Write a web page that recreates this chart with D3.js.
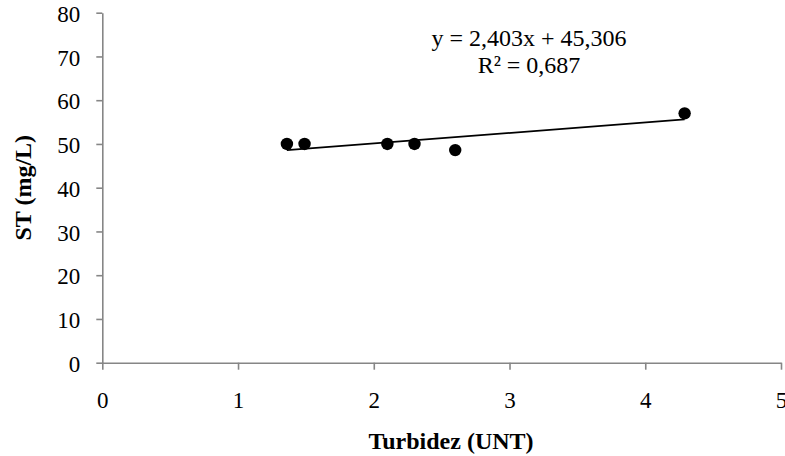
<!DOCTYPE html>
<html>
<head>
<meta charset="utf-8">
<script src="https://cdn.jsdelivr.net/npm/d3@7"></script>
<style>
  body { margin: 0; background: #fff; }
  svg text { font-family: "Liberation Serif", "Times New Roman", serif; fill: #000; }
</style>
</head>
<body>
<script>
// data
var turbidez = [1.36, 1.49, 2.1, 2.3, 2.6, 4.29];
var st = [50, 50, 50, 50, 48.6, 57];
var xTicks = [0, 1, 2, 3, 4, 5];
var yTicks = [0, 10, 20, 30, 40, 50, 60, 70, 80];
var trendCoef = [2.403, 45.306]; // slope, intercept
var trendLabels = ["y = 2,403x + 45,306", "R\u00b2 = 0,687"];

var width = 785,
    height = 456;

var svg = d3.select("body").append("svg")
    .attr("width", width)
    .attr("height", height);

var xScale = d3.scaleLinear().domain([0, 5]).range([102.3, 781]);
var yScale = d3.scaleLinear().domain([0, 80]).range([362.7, 12.7]);

// axes
var xAxis = d3.axisBottom(xScale).tickValues(xTicks).tickFormat(d3.format("d"))
    .tickSize(7).tickSizeOuter(0).tickPadding(22);
var yAxis = d3.axisLeft(yScale).tickValues(yTicks).tickFormat(d3.format("d"))
    .tickSize(6).tickSizeOuter(0).tickPadding(16);

var gx = svg.append("g")
    .attr("transform", "translate(0," + yScale(0) + ")")
    .call(xAxis);
var gy = svg.append("g")
    .attr("transform", "translate(" + xScale(0) + ",0)")
    .call(yAxis);

[gx, gy].forEach(function(g) {
  g.attr("font-family", null).attr("font-size", null);
  g.selectAll("path, line").attr("stroke", "#868686").attr("stroke-width", 1.6);
  g.selectAll("text").attr("fill", "#000")
      .style("font-family", "'Liberation Serif', 'Times New Roman', serif")
      .style("font-size", "23px");
});
gy.selectAll("text").attr("dy", "0.38em");

// trend line over the data range
var xMin = d3.min(turbidez), xMax = d3.max(turbidez);
svg.append("line")
    .attr("x1", xScale(xMin))
    .attr("y1", yScale(trendCoef[0] * xMin + trendCoef[1]))
    .attr("x2", xScale(xMax))
    .attr("y2", yScale(trendCoef[0] * xMax + trendCoef[1]))
    .attr("stroke", "#000")
    .attr("stroke-width", 1.8);

// points
svg.selectAll("circle").data(turbidez).enter().append("circle")
    .attr("cx", function(d) { return xScale(d); })
    .attr("cy", function(d, i) { return yScale(st[i]); })
    .attr("r", 6.2)
    .attr("fill", "#000");

// equation label
svg.selectAll("text.eq").data(trendLabels).enter().append("text")
    .attr("class", "eq")
    .attr("x", 529)
    .attr("y", function(d, i) { return 46 + i * 27; })
    .attr("text-anchor", "middle")
    .style("font-size", "24px")
    .text(function(d) { return d; });

// axis titles
svg.append("text")
    .attr("x", 451)
    .attr("y", 449)
    .attr("text-anchor", "middle")
    .style("font-size", "24px")
    .style("font-weight", "bold")
    .text("Turbidez (UNT)");

svg.append("text")
    .attr("transform", "translate(31," + 187.7 + ") rotate(-90)")
    .attr("text-anchor", "middle")
    .style("font-size", "24px")
    .style("font-weight", "bold")
    .text("ST (mg/L)");
</script>
</body>
</html>
